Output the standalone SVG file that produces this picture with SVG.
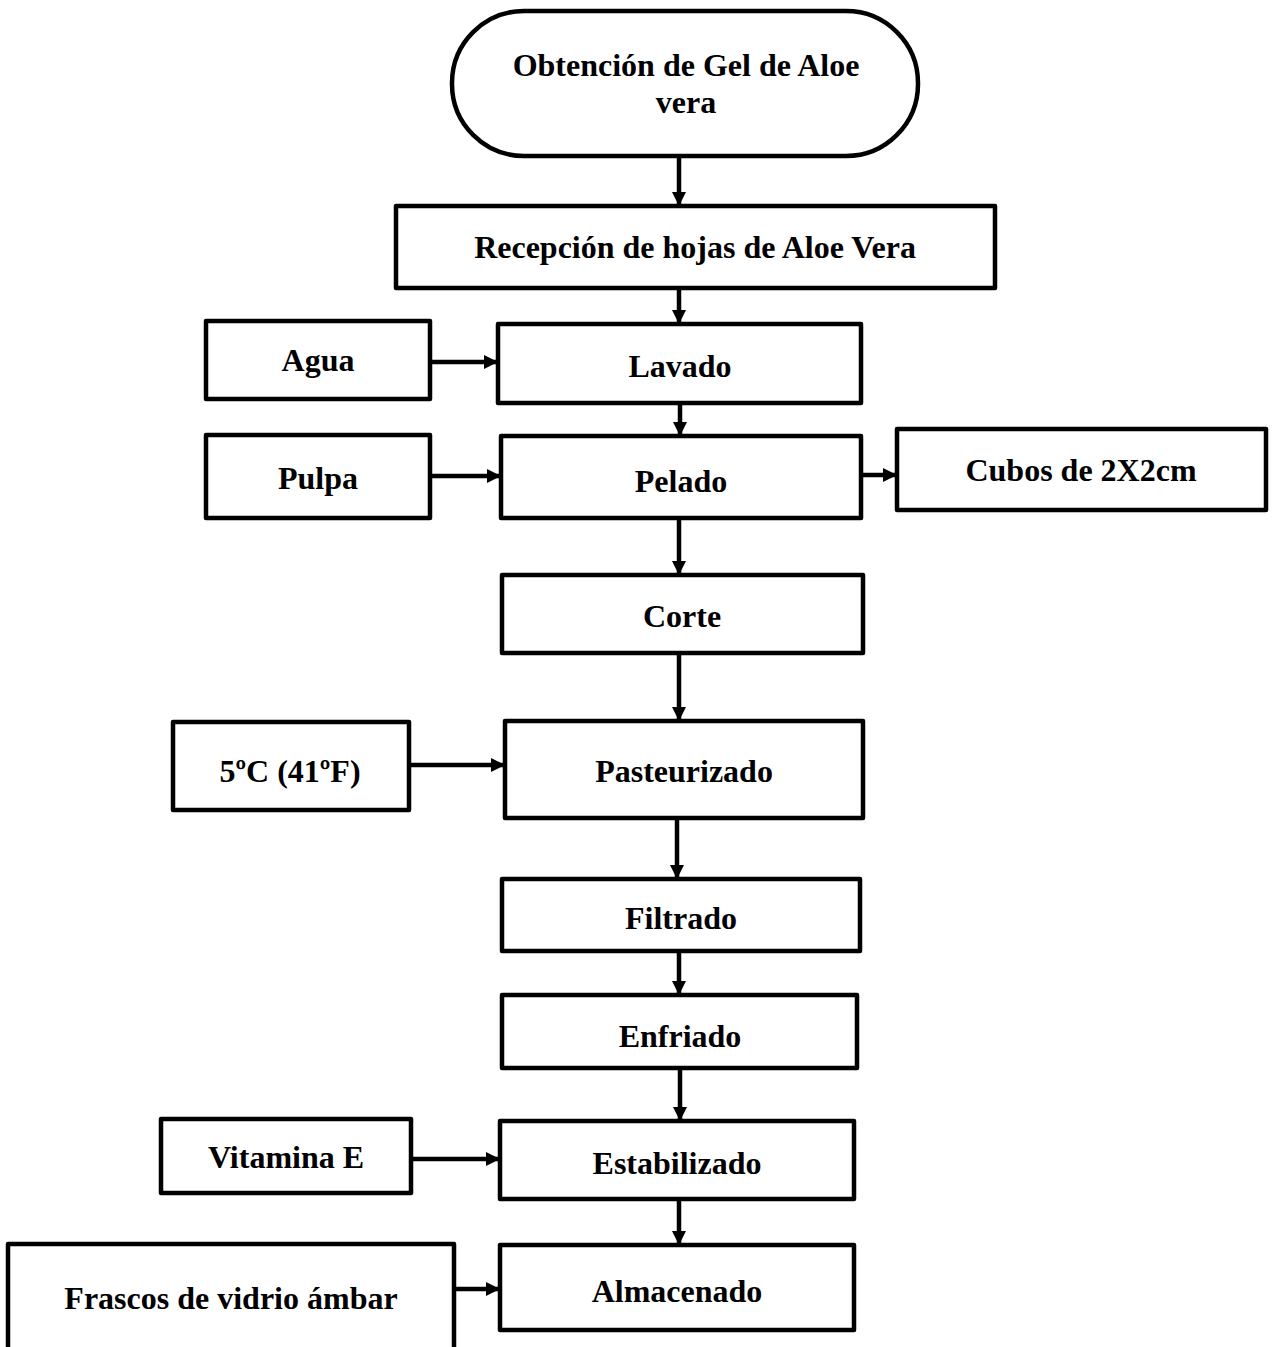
<svg xmlns="http://www.w3.org/2000/svg" width="1272" height="1347" viewBox="0 0 1272 1347">
<style>
.box{fill:#fff;stroke:#000;stroke-width:4.5;stroke-linejoin:round}
.t{font-family:"Liberation Serif","Times New Roman",serif;font-weight:bold;font-size:32px;fill:#000;text-anchor:middle}
.c{stroke:#000;stroke-width:4.5;fill:none}
</style>
<defs>
<marker id="ah" markerUnits="userSpaceOnUse" markerWidth="14" markerHeight="14" viewBox="0 0 14 14" refX="14" refY="7" orient="auto">
<path d="M0,0 L14,7 L0,14 Z" fill="#000"/>
</marker>
</defs>
<rect width="1272" height="1347" fill="#fff"/>
<g id="connectors">
<line class="c" x1="679" y1="157" x2="679" y2="206" marker-end="url(#ah)"/>
<line class="c" x1="679" y1="289" x2="679" y2="324" marker-end="url(#ah)"/>
<line class="c" x1="430" y1="362" x2="498" y2="362" marker-end="url(#ah)"/>
<line class="c" x1="680" y1="403" x2="680" y2="436" marker-end="url(#ah)"/>
<line class="c" x1="430" y1="476" x2="501" y2="476" marker-end="url(#ah)"/>
<line class="c" x1="861" y1="475" x2="897" y2="475" marker-end="url(#ah)"/>
<line class="c" x1="679" y1="518" x2="679" y2="575" marker-end="url(#ah)"/>
<line class="c" x1="679" y1="653" x2="679" y2="721" marker-end="url(#ah)"/>
<line class="c" x1="409" y1="765" x2="505" y2="765" marker-end="url(#ah)"/>
<line class="c" x1="677" y1="818" x2="677" y2="879" marker-end="url(#ah)"/>
<line class="c" x1="679" y1="951" x2="679" y2="995" marker-end="url(#ah)"/>
<line class="c" x1="680" y1="1068" x2="680" y2="1121" marker-end="url(#ah)"/>
<line class="c" x1="411" y1="1159" x2="500" y2="1159" marker-end="url(#ah)"/>
<line class="c" x1="679" y1="1199" x2="679" y2="1245" marker-end="url(#ah)"/>
<line class="c" x1="454" y1="1289" x2="500" y2="1289" marker-end="url(#ah)"/>
</g>
<g id="inicio">
<rect class="box" x="452" y="11" width="466" height="145" rx="72" ry="72"/>
<text class="t" x="686" y="76">Obtención de Gel de Aloe</text>
<text class="t" x="686" y="113">vera</text>
</g>
<g id="recepcion">
<rect class="box" x="396" y="206" width="599" height="82"/>
<text class="t" x="695" y="258">Recepción de hojas de Aloe Vera</text>
</g>
<g id="agua">
<rect class="box" x="206" y="321" width="224" height="78"/>
<text class="t" x="318" y="371">Agua</text>
</g>
<g id="lavado">
<rect class="box" x="498" y="324" width="363" height="79"/>
<text class="t" x="680" y="377">Lavado</text>
</g>
<g id="pulpa">
<rect class="box" x="206" y="435" width="224" height="83"/>
<text class="t" x="318" y="489">Pulpa</text>
</g>
<g id="pelado">
<rect class="box" x="501" y="436" width="360" height="82"/>
<text class="t" x="681" y="492">Pelado</text>
</g>
<g id="cubos">
<rect class="box" x="897" y="429" width="369" height="81"/>
<text class="t" x="1081" y="481">Cubos de 2X2cm</text>
</g>
<g id="corte">
<rect class="box" x="502" y="575" width="361" height="78"/>
<text class="t" x="682" y="627">Corte</text>
</g>
<g id="temp">
<rect class="box" x="173" y="722" width="236" height="88"/>
<text class="t" x="290" y="782">5ºC (41ºF)</text>
</g>
<g id="pasteurizado">
<rect class="box" x="505" y="721" width="358" height="97"/>
<text class="t" x="684" y="782">Pasteurizado</text>
</g>
<g id="filtrado">
<rect class="box" x="502" y="879" width="358" height="72"/>
<text class="t" x="681" y="929">Filtrado</text>
</g>
<g id="enfriado">
<rect class="box" x="502" y="995" width="355" height="73"/>
<text class="t" x="680" y="1047">Enfriado</text>
</g>
<g id="vitamina">
<rect class="box" x="161" y="1119" width="250" height="74"/>
<text class="t" x="286" y="1168">Vitamina E</text>
</g>
<g id="estabilizado">
<rect class="box" x="500" y="1121" width="354" height="78"/>
<text class="t" x="677" y="1174">Estabilizado</text>
</g>
<g id="frascos">
<rect class="box" x="8" y="1244" width="446" height="120"/>
<text class="t" x="231" y="1309">Frascos de vidrio ámbar</text>
</g>
<g id="almacenado">
<rect class="box" x="500" y="1245" width="354" height="85"/>
<text class="t" x="677" y="1302">Almacenado</text>
</g>
</svg>
